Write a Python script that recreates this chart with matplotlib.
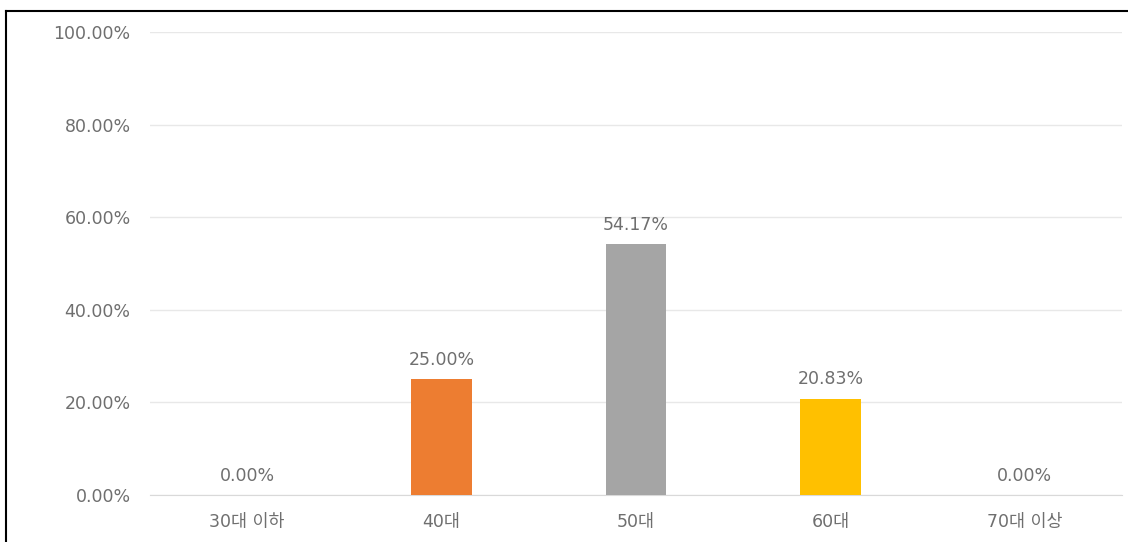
import matplotlib
matplotlib.use("Agg")
import matplotlib.pyplot as plt
from matplotlib.lines import Line2D

plt.rcParams['font.family'] = ['DejaVu Sans', 'Noto Sans CJK KR']

categories = ["30대 이하", "40대", "50대", "60대", "70대 이상"]
values = [0.0, 25.0, 54.17, 20.83, 0.0]
colors = ["#4472C4", "#ED7D31", "#A5A5A5", "#FFC000", "#5B9BD5"]
yticks = [0, 20, 40, 60, 80, 100]

TXT = "#6F6F6F"

fig = plt.figure(figsize=(11.28, 5.42), dpi=100)
ax = fig.add_axes([150/1128, 1 - 495/542, (1122-150)/1128, (495-32)/542])

x = range(len(categories))
ax.bar(x, values, width=0.31, color=colors, zorder=3)
for xi, v in zip(x, values):
    ax.text(xi, v + 2.2, f"{v:.2f}%", ha="center", va="bottom",
            fontsize=12.5, color=TXT)

ax.set_xlim(-0.5, len(categories) - 0.5)
ax.set_ylim(0, 100)
ax.set_yticks(yticks)
ax.set_yticklabels([f"{t:.2f}%" for t in yticks], fontsize=12.5, color=TXT)
ax.set_xticks(list(x))
ax.set_xticklabels(categories, fontsize=12.5, color=TXT)
ax.tick_params(axis="both", length=0)
ax.tick_params(axis="y", pad=14)
ax.tick_params(axis="x", pad=13)
ax.grid(axis="y", color="#E8E8E8", linewidth=1, zorder=0)
for s in ["top", "right", "left"]:
    ax.spines[s].set_visible(False)
ax.spines["bottom"].set_color("#D9D9D9")

# outer frame lines (top and left)
fig.add_artist(Line2D([6/1128, 1], [1 - 11/542, 1 - 11/542], color="black", linewidth=1.5, transform=fig.transFigure))
fig.add_artist(Line2D([6/1128, 6/1128], [0, 1 - 11/542], color="black", linewidth=1.5, transform=fig.transFigure))

fig.savefig("out.png", dpi=100, facecolor="white")
